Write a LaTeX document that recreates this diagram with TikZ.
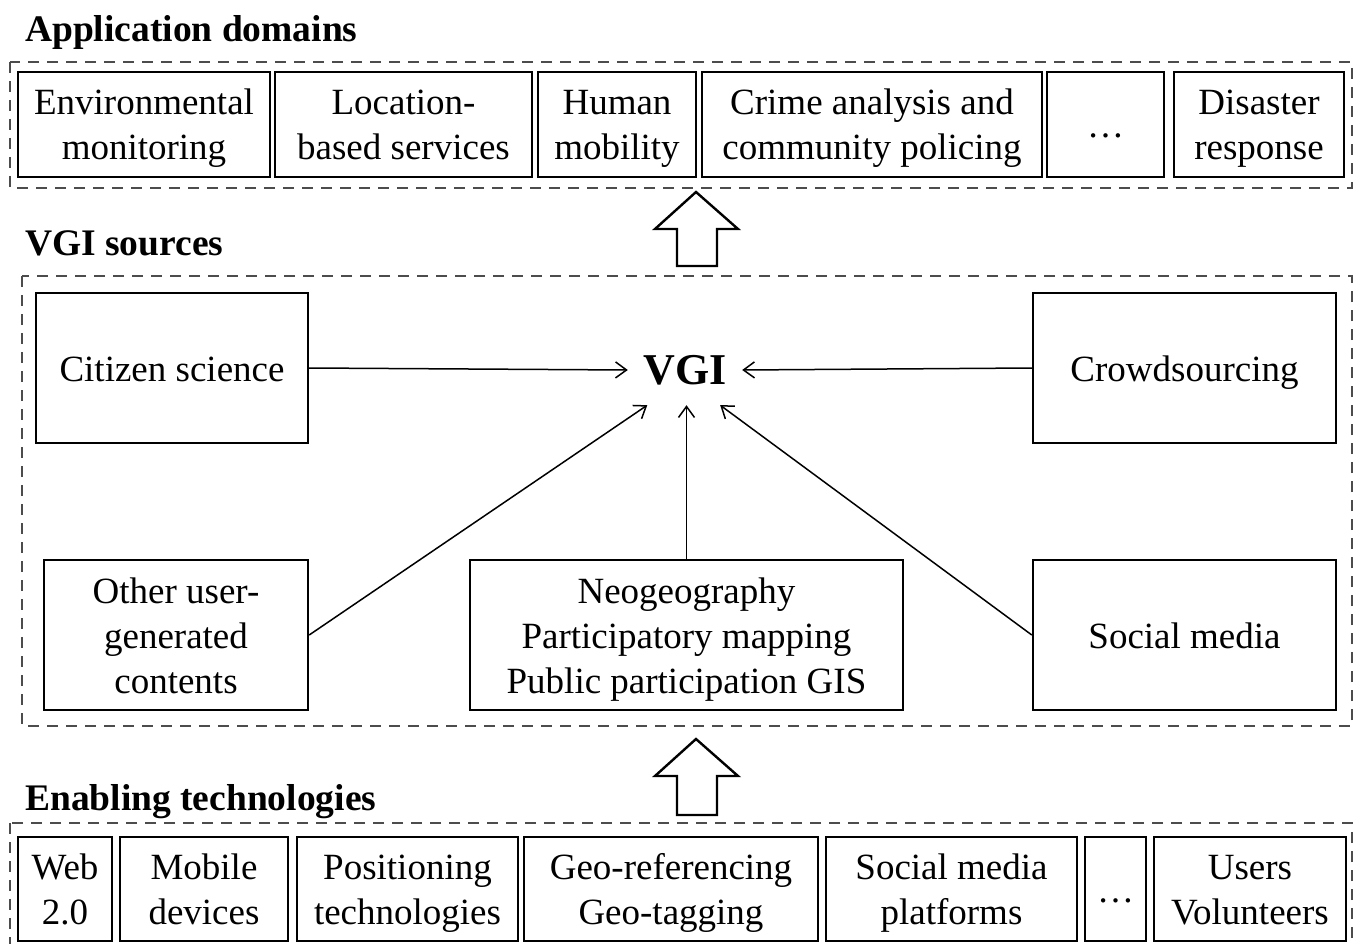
\documentclass[tikz,border=0pt]{standalone}
\usepackage{fontspec}
\setmainfont{Liberation Serif}
\usetikzlibrary{arrows.meta}
\newcommand{\ls}{\rule[-9.5pt]{0pt}{45pt}}
\begin{document}
\begin{tikzpicture}[x=1pt,y=-1pt,
  box/.style={draw, line width=2.4pt, align=center, inner sep=0pt, font=\fontsize{37}{45}\selectfont},
  grp/.style={draw=black!70, line width=2.4pt, dash pattern=on 11pt off 8pt},
  ttl/.style={anchor=base west, inner sep=0pt, font=\fontsize{37.5}{45}\selectfont\bfseries},
  link/.style={line width=1.5pt, -{Straight Barb[length=11pt,width=16pt,line width=1.5pt]}},
  blk/.style={draw, line width=2.4pt, fill=white, line join=miter}]
\useasboundingbox (0,0) rectangle (1358,944);
\fill[white] (0,0) rectangle (1358,944);

% titles
\node[ttl] (t1) at (25,42) {Application domains};
\node[ttl] (t2) at (25,255) {VGI sources};
\node[ttl] (t3) at (25,810) {Enabling technologies};

% group frames
\draw[grp] (10,62) rectangle (1352,188);
\draw[grp] (22,276) rectangle (1352,726);
\draw[grp] (10,823) rectangle (1352,960);

% application domains
\node[box, minimum width=252, minimum height=105] (env) at (144,124.5) {\ls Environmental\\\ls monitoring};
\node[box, minimum width=257, minimum height=105] (lbs) at (403.5,124.5) {\ls Location-\\\ls based services};
\node[box, minimum width=158, minimum height=105] (hum) at (617,124.5) {\ls Human\\\ls mobility};
\node[box, minimum width=340, minimum height=105] (cri) at (872,124.5) {\ls Crime analysis and\\\ls community policing};
\node[box, minimum width=117, minimum height=105] (dta) at (1105.5,124.5) {\ls …};
\node[box, minimum width=170, minimum height=105] (dis) at (1259,124.5) {\ls Disaster\\\ls response};

% block arrows
\draw[blk] (696,192) -- (738,229) -- (717,229) -- (717,266) -- (677,266) -- (677,229) -- (655,229) -- cycle;
\draw[blk] (696,739) -- (738,776) -- (717,776) -- (717,815) -- (677,815) -- (677,776) -- (655,776) -- cycle;

% VGI sources
\node[inner sep=0pt, minimum width=114, minimum height=70, font=\fontsize{44}{50}\selectfont\bfseries] (vgi) at (685,370) {VGI};
\node[box, minimum width=272, minimum height=150] (cit) at (172,368) {\ls Citizen science};
\node[box, minimum width=303, minimum height=150] (cro) at (1184.5,368) {\ls Crowdsourcing};
\node[box, minimum width=264, minimum height=150] (oth) at (176,635) {\ls Other user-\\\ls generated\\\ls contents};
\node[box, minimum width=433, minimum height=150] (neo) at (686.5,635) {\ls Neogeography\\\ls Participatory mapping\\\ls Public participation GIS};
\node[box, minimum width=303, minimum height=150] (soc) at (1184.5,635) {\ls Social media};

\draw[link] (cit.east) -- (vgi.west);
\draw[link] (cro.west) -- (vgi.east);
\draw[link] (oth.east) -- (vgi.-137);
\draw[link] (neo.north) -- (neo.north |- vgi.south);
\draw[link] (soc.west) -- (vgi.-45);

% enabling technologies
\node[box, minimum width=94, minimum height=104] (web) at (65,889) {\ls Web\\\ls 2.0};
\node[box, minimum width=168, minimum height=104] (mob) at (204,889) {\ls Mobile\\\ls devices};
\node[box, minimum width=221, minimum height=104] (pos) at (407.5,889) {\ls Positioning\\\ls technologies};
\node[box, minimum width=294, minimum height=104] (geo) at (671,889) {\ls Geo-referencing\\\ls Geo-tagging};
\node[box, minimum width=251, minimum height=104] (smp) at (951.5,889) {\ls Social media\\\ls platforms};
\node[box, minimum width=61, minimum height=104] (dtb) at (1115.5,889) {\ls …};
\node[box, minimum width=192, minimum height=104] (usr) at (1250,889) {\ls Users\\\ls Volunteers};
\end{tikzpicture}
\end{document}
